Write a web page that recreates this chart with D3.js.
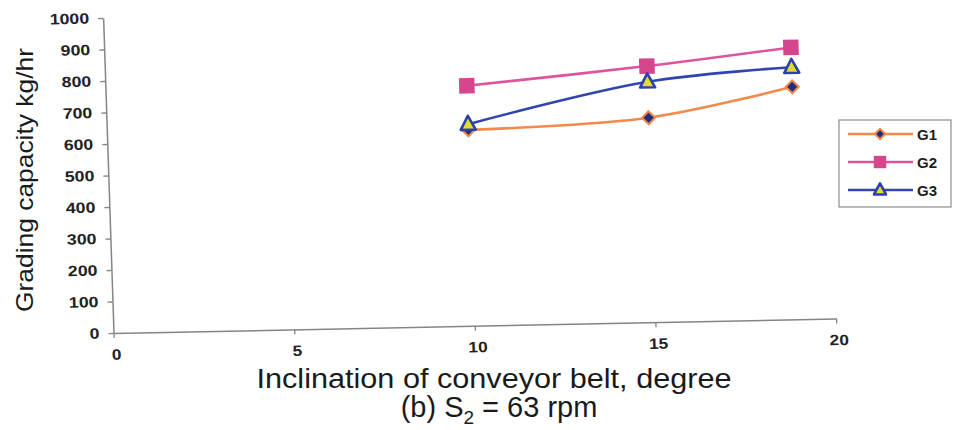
<!DOCTYPE html>
<html>
<head>
<meta charset="utf-8">
<script src="https://cdn.jsdelivr.net/npm/d3@7"></script>
<style>
  html, body { margin: 0; padding: 0; background: #ffffff; }
  svg { display: block; font-family: "Liberation Sans", Arial, sans-serif; }
</style>
</head>
<body>
<svg id="chart" width="953" height="430"></svg>
<script>
// Grading capacity vs. conveyor belt inclination, S2 = 63 rpm
const inclination = [10, 15, 19];
const g1 = [622, 649, 738];
const g2 = [762, 813, 863];
const g3 = [640, 763, 800];
const seriesNames = ["G1", "G2", "G3"];
const xTicks = [0, 5, 10, 15, 20];
const yTicks = [0, 100, 200, 300, 400, 500, 600, 700, 800, 900, 1000];
const xTitle = "Inclination of conveyor belt, degree";
const yTitle = "Grading capacity kg/hr";

const colors = { G1: "#f28a4c", G2: "#de549c", G3: "#3046ae" };
const seriesValues = { G1: g1, G2: g2, G3: g3 };

const svg = d3.select("#chart");
svg.append("rect").attr("width", 953).attr("height", 430).attr("fill", "#ffffff");

// The printed plot sits slightly sheared on the page, so the plot group
// carries a small affine transform (origin at the axis corner).
const plotW = 722.5, plotH = 315;
const plot = svg.append("g")
  .attr("transform", "matrix(1,-0.02,0.033,1,113.5,333)");

const x = d3.scaleLinear().domain([0, 20]).range([0, plotW]);
const y = d3.scaleLinear().domain([0, 1000]).range([0, -plotH]);

function stretchText(sel, factor) {
  sel.each(function () {
    const w = this.getComputedTextLength();
    d3.select(this).attr("textLength", w * factor).attr("lengthAdjust", "spacingAndGlyphs");
  });
}

// Y axis
const yAxis = plot.append("g")
  .call(d3.axisLeft(y).tickValues(yTicks).tickFormat(d3.format("d"))
    .tickSize(5).tickSizeOuter(0).tickPadding(9));
// X axis
const xAxis = plot.append("g")
  .call(d3.axisBottom(x).tickValues(xTicks).tickFormat(d3.format("d"))
    .tickSize(5).tickSizeOuter(0).tickPadding(11));

[yAxis, xAxis].forEach(a => {
  a.select(".domain").attr("stroke", "#858585").attr("stroke-width", 1.5);
  a.selectAll(".tick line").attr("stroke", "#858585").attr("stroke-width", 1.3);
  a.selectAll(".tick text")
    .attr("fill", "#222222")
    .style("font-family", "'Liberation Sans', Arial, sans-serif")
    .style("font-size", "15px")
    .style("font-weight", "bold");
});
xAxis.selectAll(".tick text").attr("dx", 2);
stretchText(yAxis.selectAll(".tick text"), 1.18);
stretchText(xAxis.selectAll(".tick text"), 1.15);

// Series lines
const line = d3.line()
  .x(d => x(d.x))
  .y(d => y(d.v))
  .curve(d3.curveCatmullRom.alpha(0.5));

seriesNames.forEach(name => {
  const pts = inclination.map((xv, i) => ({ x: xv, v: seriesValues[name][i] }));
  const grp = plot.append("g").attr("class", "series-" + name);
  grp.append("path")
    .datum(pts)
    .attr("fill", "none")
    .attr("stroke", colors[name])
    .attr("stroke-width", 2.6)
    .attr("stroke-linejoin", "round")
    .attr("d", line);

  const marks = grp.selectAll("g.pt").data(pts).join("g")
    .attr("class", "pt")
    .attr("transform", d => `translate(${x(d.x)},${y(d.v)})`);
  drawMarker(marks, name, 1);
});

function drawMarker(sel, name, scale) {
  if (name === "G1") {
    const s = 6.5 * scale;
    sel.append("path")
      .attr("d", `M0,${-s}L${s},0L0,${s}L${-s},0Z`)
      .attr("fill", "#1f2f7c")
      .attr("stroke", "#f2884a")
      .attr("stroke-width", 2);
  } else if (name === "G2") {
    const s = 15.5 * scale;
    sel.append("rect")
      .attr("x", -s / 2).attr("y", -s / 2)
      .attr("width", s).attr("height", s)
      .attr("fill", "#d5468f");
  } else {
    const w = 15 * scale, h = 14 * scale;
    sel.append("path")
      .attr("d", `M0,${-h * 0.6}L${w / 2},${h * 0.4}L${-w / 2},${h * 0.4}Z`)
      .attr("fill", "#e3dc2c")
      .attr("stroke", "#2c40aa")
      .attr("stroke-width", 2.6)
      .attr("stroke-linejoin", "round");
  }
}

// Legend
const legend = svg.append("g");
legend.append("rect")
  .attr("x", 839).attr("y", 120).attr("width", 112).attr("height", 87)
  .attr("fill", "#ffffff").attr("stroke", "#8c8c8c").attr("stroke-width", 1.2);
seriesNames.forEach((name, i) => {
  const cy = 134 + i * 28;
  const row = legend.append("g");
  row.append("line")
    .attr("x1", 848).attr("x2", 913).attr("y1", cy).attr("y2", cy)
    .attr("stroke", colors[name]).attr("stroke-width", 2.4);
  const m = row.append("g").attr("transform", `translate(880,${cy})`);
  drawMarker(m, name, 0.8);
  row.append("text")
    .attr("x", 917).attr("y", cy + 5.5)
    .attr("fill", "#1e1e1e")
    .style("font-size", "15px")
    .style("font-weight", "bold")
    .text(name);
});

// Axis titles
svg.append("text")
  .attr("transform", "translate(33,180) rotate(-90)")
  .attr("text-anchor", "middle")
  .attr("fill", "#1a1a1a")
  .style("font-size", "24px")
  .attr("textLength", 264).attr("lengthAdjust", "spacingAndGlyphs")
  .text(yTitle);

svg.append("text")
  .attr("x", 494).attr("y", 388)
  .attr("text-anchor", "middle")
  .attr("fill", "#1a1a1a")
  .style("font-size", "27px")
  .attr("textLength", 475).attr("lengthAdjust", "spacingAndGlyphs")
  .text(xTitle);

const sub = svg.append("text")
  .attr("x", 499).attr("y", 417)
  .attr("text-anchor", "middle")
  .attr("fill", "#1a1a1a")
  .style("font-size", "29px");
sub.append("tspan").text("(b) S");
sub.append("tspan").attr("dy", 7).style("font-size", "19px").text("2");
sub.append("tspan").attr("dy", -7).text(" = 63 rpm");
</script>
</body>
</html>
